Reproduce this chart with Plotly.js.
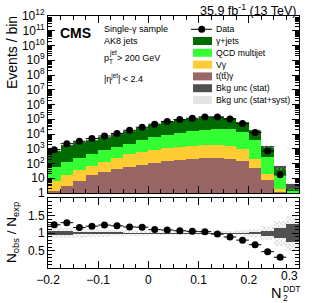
<!DOCTYPE html>
<html>
<head>
<meta charset="utf-8">
<script src="https://cdn.plot.ly/plotly-3.0.1.min.js"></script>
<style>html,body{margin:0;padding:0;background:#fff;}#chart{width:316px;height:303px;}</style>
</head>
<body>
<div id="chart"></div>
<script>
// ---- data ----
const binCenters = [-0.1875,-0.1625,-0.1375,-0.1125,-0.0875,-0.0625,-0.0375,-0.0125,0.0125,0.0375,0.0625,0.0875,0.1125,0.1375,0.1625,0.1875,0.2125,0.2375,0.2625,0.2875];
const binWidth = 0.025;
const dataObs  = [870,2200,3200,4900,7300,11000,17800,28600,45700,69700,95000,117000,144000,144000,105000,51000,12500,700,17,null];
const gammaJets= [645,1565,2510,3615,5150,7790,13100,20700,35200,54800,76500,96000,119500,126000,96000,50000,15000,1200,37,1.7];
const qcdMulti = [50,110,213,398,655,1053,1570,3100,5430,7980,11000,13500,16800,20300,20500,12800,3510,272,16,0.7];
const vGamma   = [5.7,12.7,27,51.5,99,203,373,517,757,981,1119,1287,1453,1450,1300,850,140,10,0.8,0.3];
const ttGamma  = [1.3,2.8,7,15.5,26,44,57,83,113,139,181,213,247,250,200,150,50,8,1.2,0.3];
const statRel  = [0.06,0.05,0.03,0.025,0.02,0.02,0.015,0.015,0.01,0.01,0.01,0.01,0.01,0.01,0.012,0.015,0.02,0.07,0.14,0.26];
const totRel   = [0.15,0.14,0.13,0.12,0.10,0.09,0.08,0.07,0.06,0.05,0.05,0.05,0.05,0.05,0.06,0.08,0.12,0.21,0.36,0.50];
const yTickVals = [1,10,1e2,1e3,1e4,1e5,1e6,1e7,1e8,1e9,1e10,1e11,1e12];
const yTickText = ['1','10','10<sup>2</sup>','10<sup>3</sup>','10<sup>4</sup>','10<sup>5</sup>','10<sup>6</sup>','10<sup>7</sup>','10<sup>8</sup>','10<sup>9</sup>','10<sup>10</sup>','10<sup>11</sup>','10<sup>12</sup>'];
const xTickVals = [-0.2,-0.1,0,0.1,0.2,0.3];
const xTickText = ['\u22120.2','\u22120.1','0','0.1','0.2',''];
const xLastLabel = '0.3';
const rTickVals = [0.5,1,1.5];
const rTickText = ['0.5','1','1.5'];

// ---- derived ----
const cumTT = ttGamma.slice();
const cumV  = cumTT.map((v,i)=>v+vGamma[i]);
const cumQ  = cumV.map((v,i)=>v+qcdMulti[i]);
const total = cumQ.map((v,i)=>v+gammaJets[i]);
const ratio = dataObs.map((d,i)=> d==null ? null : d/total[i]);

const minorLog = [];
for (let k=0;k<12;k++) for (let m=2;m<=9;m++) minorLog.push(m*Math.pow(10,k));

const C = {gj:'#006b00', qcd:'#33ff33', vg:'#ffcc33', tt:'#996666', stat:'#505050'};
const FONT = 'Liberation Sans, Arial, Helvetica, sans-serif';
const hatch = {color:'rgba(255,255,255,0)', pattern:{shape:'x', fgcolor:'#b4b4b4', bgcolor:'rgba(255,255,255,0)', size:3, solidity:0.3}, line:{width:0}};

function bar(y, color, xa, ya, base){
  const t = {type:'bar', x:binCenters, y:y, width:binWidth, xaxis:xa, yaxis:ya,
    marker:{color:color, line:{width:0}}, hoverinfo:'skip'};
  if (base) t.base = base;
  return t;
}

const traces = [
  bar(total, C.gj, 'x','y'),
  bar(cumQ, C.qcd, 'x','y'),
  bar(cumV, C.vg, 'x','y'),
  bar(cumTT, C.tt, 'x','y'),
  Object.assign(bar(total.map((t,i)=>2*t*totRel[i]), null,'x','y', total.map((t,i)=>t*(1-totRel[i]))), {marker:hatch}),
  bar(total.map((t,i)=>2*t*statRel[i]), C.stat,'x','y', total.map((t,i)=>t*(1-statRel[i]))),
  {type:'scatter', mode:'markers', x:binCenters, y:dataObs, xaxis:'x', yaxis:'y',
   marker:{color:'black', size:7}, error_x:{type:'constant', value:binWidth/2, width:0, thickness:1, color:'black'}, hoverinfo:'skip'},
  Object.assign(bar(totRel.map(v=>2*v), null,'x2','y2', totRel.map(v=>1-v)), {marker:hatch}),
  bar(statRel.map(v=>2*v), C.stat,'x2','y2', statRel.map(v=>1-v)),
  {type:'scatter', mode:'markers', x:binCenters, y:ratio, xaxis:'x2', yaxis:'y2',
   marker:{color:'black', size:7}, error_x:{type:'constant', value:binWidth/2, width:0, thickness:1, color:'black'}, hoverinfo:'skip'}
];

// pixel -> paper helpers (plot area: x 48..299, y 16..268)
const PX = p => (p-48)/251;
const PY = p => (268-p)/252;

const axBase = {showline:true, linecolor:'black', linewidth:1, mirror:'allticks', ticks:'inside', ticklen:7, tickcolor:'black', showgrid:false, zeroline:false, tickfont:{family:FONT, size:12, color:'black'}};

const shapes = [];
const annotations = [];
function txt(text, x, y, size, opts){
  annotations.push(Object.assign({text:text, x:PX(x), y:PY(y), xref:'paper', yref:'paper', showarrow:false,
    xanchor:'left', yanchor:'middle', borderpad:0, font:{family:FONT, size:size, color:'black'}}, opts||{}));
}

// legend (manual)
const legY = [29.3,41,52.8,64.6,76.4,88.2,100];
shapes.push({type:'line', xref:'paper', yref:'paper', x0:PX(191), x1:PX(212), y0:PY(legY[0]), y1:PY(legY[0]), line:{color:'black', width:1}});
shapes.push({type:'circle', xref:'paper', yref:'paper', x0:PX(198.2), x1:PX(205.2), y0:PY(legY[0]-3.5), y1:PY(legY[0]+3.5), fillcolor:'black', line:{width:0}});
const legBoxes = [[C.gj,1],[C.qcd,2],[C.vg,3],[C.tt,4],[C.stat,5]];
legBoxes.forEach(([c,i])=>{
  shapes.push({type:'rect', xref:'paper', yref:'paper', x0:PX(193), x1:PX(212), y0:PY(legY[i]+4), y1:PY(legY[i]-4), fillcolor:c, line:{width:0}});
});
shapes.push({type:'rect', xref:'paper', yref:'paper', x0:PX(193), x1:PX(212), y0:PY(legY[6]+4), y1:PY(legY[6]-4), fillcolor:'#e4e4e4', line:{width:0}});
const legText = ['Data','\u03b3+jets','QCD multijet','V\u03b3','t(tt\u0304)\u03b3','Bkg unc (stat)','Bkg unc (stat+syst)'];
legText.forEach((t,i)=>txt(t, 215, legY[i], 8.7));

// CMS + selection text
txt('<b>CMS</b>', 59, 32.5, 14);
txt('Single-\u03b3 sample', 102.5, 28.5, 9);
txt('AK8 jets', 102.5, 41.5, 9);
txt('p', 102.5, 58, 9);
txt('jet', 108, 52.5, 6.5);
txt('T', 108, 61.5, 6.5);
txt('> 200 GeV', 116, 58, 9);
txt('|\u03b7<sup>jet</sup>| < 2.4', 102.5, 78, 9);

// lumi
txt('35.9 fb<sup>-1</sup> (13 TeV)', 298, 10, 12.5, {xanchor:'right'});

// last x tick label (ROOT pulls it inside the frame)
txt(xLastLabel, 299, 276, 12, {xanchor:'right'});

// axis titles
annotations.push({text:'Events / bin', x:PX(11.5), y:PY(14), xref:'paper', yref:'paper', showarrow:false, textangle:-90,
  xanchor:'center', yanchor:'top', font:{family:FONT, size:14, color:'black'}});
annotations.push({text:'N<sub>obs</sub> / N<sub>exp</sub>', x:PX(12), y:PY(233), xref:'paper', yref:'paper', showarrow:false, textangle:-90,
  xanchor:'center', yanchor:'middle', font:{family:FONT, size:13.5, color:'black'}});
txt('N', 282, 293, 14.5, {xanchor:'right'});
txt('DDT', 282, 288.5, 8.5);
txt('2', 282, 297.5, 8.5);

const layout = {
  width:316, height:303, margin:{l:48, r:17, t:16, b:35},
  paper_bgcolor:'white', plot_bgcolor:'white', showlegend:false,
  barmode:'overlay', bargap:0,
  xaxis: Object.assign({}, axBase, {domain:[0,1], anchor:'y', range:[-0.2,0.3], tickmode:'array', tickvals:xTickVals, showticklabels:false,
    minor:{ticks:'inside', ticklen:4, dtick:0.025, tick0:0, tickcolor:'black'}}),
  yaxis: Object.assign({}, axBase, {domain:[PY(193),1], anchor:'x', type:'log', range:[0,12], tickmode:'array', tickvals:yTickVals, ticktext:yTickText,
    minor:{ticks:'inside', ticklen:4, tickmode:'array', tickvals:minorLog, tickcolor:'black'}}),
  xaxis2: Object.assign({}, axBase, {domain:[0,1], anchor:'y2', matches:'x', range:[-0.2,0.3], tickmode:'array', tickvals:xTickVals, ticktext:xTickText,
    ticklabelstandoff:1,
    minor:{ticks:'inside', ticklen:4, dtick:0.025, tick0:0, tickcolor:'black'}}),
  yaxis2: Object.assign({}, axBase, {domain:[0,PY(198.3)], anchor:'x2', range:[0,2], tickmode:'array', tickvals:rTickVals, ticktext:rTickText,
    minor:{ticks:'inside', ticklen:4, dtick:0.1, tick0:0, tickcolor:'black'}}),
  shapes:shapes, annotations:annotations
};

Plotly.newPlot('chart', traces, layout, {staticPlot:true, displayModeBar:false});
</script>
</body>
</html>
